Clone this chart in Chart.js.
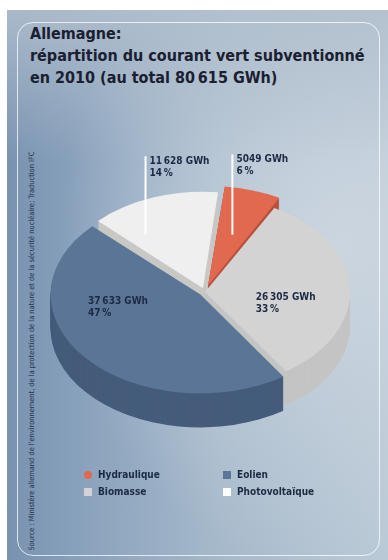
<!DOCTYPE html>
<html lang="fr">
<head>
<meta charset="utf-8">
<script src="https://cdn.jsdelivr.net/npm/chart.js@4.4.1/dist/chart.umd.min.js"></script>
<style>
  html, body { margin: 0; padding: 0; background: #fff; }
  #page { position: relative; width: 388px; height: 560px; overflow: hidden;
          font-family: "DejaVu Sans Condensed", "DejaVu Sans", sans-serif; }
  #panel { position: absolute; left: 7px; top: 10px; width: 381px; height: 550px;
    background:
      linear-gradient(to bottom, rgba(178,192,206,0.85) 0%, rgba(178,192,206,0) 28%),
      radial-gradient(ellipse 75% 60% at 88% 42%, rgba(204,214,224,0.95) 0%, rgba(204,214,224,0) 100%),
      linear-gradient(to right, #7892b0 0%, #8ba3bd 22%, #a6b9cb 55%, #bac9d6 100%); }
  #frame { position: absolute; left: 17px; top: 22px; width: 361px; height: 532px;
           border: 1.5px solid rgba(255,255,255,0.75); border-radius: 16px; }
  #title { position: absolute; left: 30px; top: 23px; font-weight: bold; font-size: 16px;
           line-height: 22px; color: #1a2030; white-space: nowrap; }
  #source { position: absolute; left: -170px; top: 346px; width: 403px; text-align: center;
            font-size: 7.4px; line-height: 10px; color: #26334c; white-space: nowrap;
            transform: rotate(-90deg); }
  #pie { position: absolute; left: 0; top: 0; }
  #legend { position: absolute; left: 84px; top: 468px; display: grid;
            grid-template-columns: 139px 120px; row-gap: 4px;
            font-weight: bold; font-size: 10px; line-height: 13px; color: #1c2a42; }
  #legend span { display: flex; align-items: center; }
  #legend i { display: inline-block; width: 8px; height: 8px; margin-right: 6px; }
</style>
</head>
<body>
<div id="page">
  <div id="panel"></div>
  <div id="frame"></div>
  <div id="title">Allemagne:<br>répartition du courant vert subventionné<br>en 2010 (au total 80&#8239;615 GWh)</div>
  <div id="source">Source : Ministère allemand de l'environnement, de la protection de la nature et de la sécurité nucléaire; Traduction IFC</div>
  <canvas id="pie" width="388" height="560"></canvas>
  <div id="legend"></div>
</div>
<script>
// données (GWh, 2010), dans l'ordre des parts du camembert
const labels = ['Hydraulique', 'Biomasse', 'Eolien', 'Photovoltaïque'];
const gwh = [5049, 26305, 37633, 11628];
const legendOrder = [0, 2, 1, 3];

// couleurs
const topColors = ['#e0694f', '#d3d3d3', '#5a7595', '#efefef'];
const sideColors = ['#b9503c', '#c4c4c4', '#455c7b', '#c8c8c4'];
const explode = [40, 0, 24, 24];

// placement des étiquettes
const labelFrac = [0.51, 0.53, 0.73, 0.21];
const labelRad = [0.56, 0.35, 0.775, 0.69];
const leader = [80, 0, 0, 78];

const TILT = 0.66, DEPTH = 34;
const total = gwh.reduce((a, b) => a + b, 0);

function fmt(n) {
    const s = String(n);
    return n < 10000 ? s : s.replace(/\B(?=(\d{3})+(?!\d))/g, '\u202F');
}

function tilt(ctx, arc) {
    ctx.translate(arc.x, arc.y);
    ctx.scale(1, TILT);
    ctx.translate(-arc.x, -arc.y);
}

const pie3d = {
    id: 'pie3d',
    beforeDatasetsDraw(chart) {
        const ctx = chart.ctx;
        const arcs = chart.getDatasetMeta(0).data;
        // faces latérales
        for (let d = DEPTH; d > 0; d--) {
            ctx.save();
            ctx.translate(0, d);
            tilt(ctx, arcs[0]);
            arcs.forEach((arc, i) => {
                const keep = arc.options;
                arc.options = Object.assign({}, keep, { backgroundColor: sideColors[i] });
                arc.draw(ctx);
                arc.options = keep;
            });
            ctx.restore();
        }
        ctx.save();
        tilt(ctx, arcs[0]);
    },
    afterDatasetsDraw(chart) {
        chart.ctx.restore();
    },
    afterDraw(chart) {
        const ctx = chart.ctx;
        const arcs = chart.getDatasetMeta(0).data;
        ctx.save();
        ctx.font = 'bold 10px "DejaVu Sans Condensed"';
        ctx.textBaseline = 'top';
        arcs.forEach((arc, i) => {
            const mid = (arc.startAngle + arc.endAngle) / 2;
            const ang = arc.startAngle + (arc.endAngle - arc.startAngle) * labelFrac[i];
            const shift = (arc.options.offset || 0) / 4;
            const r = arc.outerRadius * labelRad[i];
            const x = arc.x + Math.cos(mid) * shift + Math.cos(ang) * r;
            const y = arc.y + (Math.sin(mid) * shift + Math.sin(ang) * r) * TILT;
            let tx = x, ty = y;
            if (leader[i]) {
                ctx.strokeStyle = '#fff';
                ctx.lineWidth = 2;
                ctx.beginPath();
                ctx.moveTo(x, y);
                ctx.lineTo(x, y - leader[i]);
                ctx.stroke();
                tx = x + 4;
                ty = y - leader[i];
            }
            ctx.fillStyle = '#1e2a44';
            ctx.fillText(fmt(gwh[i]) + ' GWh', tx, ty);
            ctx.fillText(Math.round(gwh[i] / total * 100) + '\u202F%', tx, ty + 12);
        });
        ctx.restore();
    }
};

new Chart(document.getElementById('pie'), {
    type: 'pie',
    data: {
        labels: labels,
        datasets: [{
            data: gwh,
            backgroundColor: topColors,
            borderWidth: 0,
            offset: explode
        }]
    },
    options: {
        responsive: false,
        animation: false,
        devicePixelRatio: 1,
        rotation: 6,
        radius: 145,
        events: [],
        layout: { padding: { left: 22, top: 24 } },
        plugins: { legend: { display: false }, tooltip: { enabled: false } }
    },
    plugins: [pie3d]
});

// légende
const legend = document.getElementById('legend');
legendOrder.forEach(i => {
    const item = document.createElement('span');
    const mark = document.createElement('i');
    mark.style.background = topColors[i] === '#efefef' ? '#fbfbfb' : topColors[i];
    if (i === 0) mark.style.borderRadius = '50%';
    item.appendChild(mark);
    item.appendChild(document.createTextNode(labels[i]));
    legend.appendChild(item);
});
</script>
</body>
</html>
